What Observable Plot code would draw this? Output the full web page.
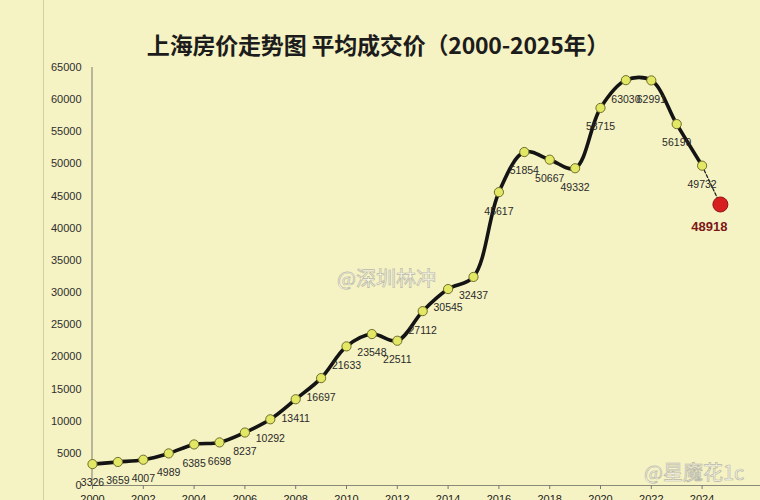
<!DOCTYPE html>
<html>
<head>
<meta charset="utf-8">
<script src="https://cdn.jsdelivr.net/npm/d3@7"></script>
<script src="https://cdn.jsdelivr.net/npm/@observablehq/plot@0.6"></script>
<style>
  html, body { margin: 0; padding: 0; }
  body { width: 760px; height: 500px; overflow: hidden; background: #f5f2c3; position: relative; }
  #frame { position: absolute; left: 43px; top: 0; width: 1px; height: 500px; background: #d2cfa6; }
  #title { position: absolute; left: 0; top: 30px; width: 756px; text-align: center;
    font-family: "Noto Sans CJK SC", "Noto Sans", sans-serif; font-size: 23px; font-weight: 700;
    line-height: 28px; color: #1c1c1c; letter-spacing: -0.2px; }
  #chart { position: absolute; left: 0; top: 60px; }
  .wm { position: absolute; font-family: "Noto Sans CJK SC", sans-serif; color: rgba(255,255,250,0.75);
    -webkit-text-stroke: 0.7px #b9b8a6; white-space: nowrap; }
</style>
</head>
<body>
<div id="frame"></div>
<div id="title">上海房价走势图 平均成交价（2000-2025年）</div>
<div id="chart"></div>
<div class="wm" style="left:337px; top:263px; font-size:20px;">@深圳林冲</div>
<div class="wm" style="left:644px; top:457px; font-size:20px;">@星魔花1c</div>
<script>
// Years 2000–2025
const years = [2000, 2001, 2002, 2003, 2004, 2005, 2006, 2007, 2008, 2009, 2010, 2011, 2012,
               2013, 2014, 2015, 2016, 2017, 2018, 2019, 2020, 2021, 2022, 2023, 2024, 2025];
// Average transaction price (yuan / m²)
const prices = [3326, 3659, 4007, 4989, 6385, 6698, 8237, 10292, 13411, 16697, 21633, 23548, 22511,
                27112, 30545, 32437, 45617, 51854, 50667, 49332, 58715, 63030, 62991, 56199, 49732, 48918];
// Highlighted 2025 marker as placed in the picture
const highlightYear = [2024.72];
const highlightValue = [43700];
const highlightLabel = ["48918"];
// Axis ticks
const yTicks = [0, 5000, 10000, 15000, 20000, 25000, 30000, 35000, 40000, 45000, 50000, 55000, 60000, 65000];
const xTicks = [2000, 2002, 2004, 2006, 2008, 2010, 2012, 2014, 2016, 2018, 2020, 2022, 2024];

const data = years.map((y, i) => ({year: y, price: prices[i]}));
const main = data.slice(0, 25);
const hl = highlightYear.map((y, i) => ({year: y, price: highlightValue[i], label: highlightLabel[i]}));
const dashed = [main[main.length - 1], hl[0]];

const chart = Plot.plot({
  width: 760,
  height: 440,
  marginLeft: 92,
  marginRight: 33,
  marginTop: 7,
  marginBottom: 15,
  style: {background: "transparent", fontFamily: "'Liberation Sans', Arial, sans-serif", fontSize: "11px", overflow: "visible"},
  x: {domain: [2000, 2025]},
  y: {domain: [0, 65000]},
  marks: [
    Plot.ruleX([2000], {y1: 0, y2: 65000, stroke: "#7a7a6a", strokeWidth: 1, dx: -0.5}),
    Plot.ruleY([0], {x1: 2000, x2: 2026.3, stroke: "#8a8a78", strokeWidth: 1}),
    Plot.axisY({ticks: yTicks, tickSize: 0, tickPadding: 11, tickFormat: d => String(d), label: null, fill: "#2e2e2e", fontSize: 11}),
    Plot.axisX({ticks: xTicks, tickSize: 4, tickPadding: 6, tickFormat: d => String(d), label: null, fill: "#222", stroke: "#777", fontSize: 11}),
    Plot.line(dashed, {x: "year", y: "price", stroke: "#222", strokeWidth: 1.3, strokeDasharray: "3,2"}),
    Plot.line(main, {x: "year", y: "price", curve: "catmull-rom", stroke: "#141414", strokeWidth: 3.6, strokeLinejoin: "round"}),
    Plot.dot(main, {x: "year", y: "price", r: 4.6, fill: "#e3e864", stroke: "#6f6d2c", strokeWidth: 1}),
    Plot.text(main, {x: "year", y: "price", text: d => String(d.price), dy: 19, fontSize: 10.5, fill: "#2a2a2a"}),
    Plot.dot(hl, {x: "year", y: "price", r: 7.5, fill: "#d81f1f", stroke: "#8e1313", strokeWidth: 1}),
    Plot.text(hl, {x: "year", y: "price", text: d => d.label, dy: 22, dx: -11, fontSize: 13, fontWeight: "bold", fill: "#7c1717"})
  ]
});
document.getElementById("chart").appendChild(chart);
</script>
</body>
</html>
